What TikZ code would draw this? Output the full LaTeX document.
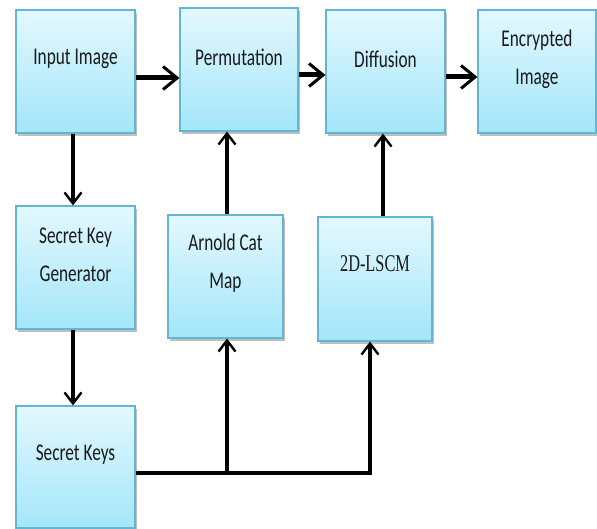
\documentclass[tikz,border=0pt]{standalone}
\usepackage{fontspec}
\newfontfamily\boxfont[FakeStretch=0.72]{Carlito}
\newfontfamily\boxserif[FakeStretch=0.68]{Liberation Serif}
\usetikzlibrary{arrows.meta,shadows}
\definecolor{boxtop}{HTML}{E3F8FE}
\definecolor{boxbot}{HTML}{A3E6FA}
\definecolor{boxline}{HTML}{62B6D2}
\definecolor{txt}{HTML}{1A1A1A}
\tikzset{
  blockbox/.style={draw=boxline, line width=1.2pt, top color=boxtop, bottom color=boxbot,
    minimum width=119pt, minimum height=123pt, inner sep=0pt,
    drop shadow={shadow xshift=2pt, shadow yshift=-3pt, opacity=0.25, fill=black}},
  blocktext/.style={text=txt, font=\boxfont\fontsize{24}{38}\selectfont, align=center, inner sep=0pt},
  flowarrow/.style={line width=5pt, -{Straight Barb[length=14pt,width=23pt,line width=3pt]}},
  keyarrow/.style={line width=3.2pt, -{Straight Barb[length=11pt,width=17pt,line width=2.4pt]}},
  busline/.style={line width=4pt}
}
\begin{document}
\begin{tikzpicture}[x=1pt,y=1pt]
\useasboundingbox (0,0) rectangle (597,529);
% boxes
\node[blockbox] (inp) at (75.5,457.5) {};
\node[blockbox, minimum width=118pt] (perm) at (239,459.5) {};
\node[blockbox] (diff) at (385.5,457.5) {};
\node[blockbox, minimum width=118pt] (enc) at (537,457.5) {};
\node[blockbox] (skg) at (75.5,261.5) {};
\node[blockbox, minimum width=115pt] (acm) at (225.5,252.5) {};
\node[blockbox, minimum width=114pt, minimum height=124pt] (lscm) at (375,250) {};
\node[blockbox, minimum height=122pt] (sk) at (75.5,62) {};
% texts
\node[blocktext] (tinp) at (75.5,470) {Input Image};
\node[blocktext] (tperm) at (239,472) {Permutation};
\node[blocktext] (tdiff) at (385.5,470) {Diffusion};
\node[blocktext] (tenc) at (537,470) {Encrypted\\Image};
\node[blocktext] (tskg) at (75.5,274.5) {Secret Key\\Generator};
\node[blocktext] (tacm) at (225.5,266) {Arnold Cat\\Map};
\node[blocktext, font=\boxserif\fontsize{24}{38}\selectfont] (tlscm) at (375,265) {2D-LSCM};
\node[blocktext] (tsk) at (75.5,74) {Secret Keys};
% helper coordinates
\coordinate (h1) at (0,451);
\coordinate (h2) at (0,454);
\coordinate (h3) at (0,452);
\coordinate (v1) at (73,0);
\coordinate (v2) at (227,0);
\coordinate (v3) at (383,0);
\coordinate (b1) at (227,56);
\coordinate (b2) at (370,56);
% top flow
\draw[flowarrow] (inp.east |- h1) -- (perm.west |- h1);
\draw[flowarrow] (perm.east |- h2) -- (diff.west |- h2);
\draw[flowarrow] (diff.east |- h3) -- (enc.west |- h3);
% left chain
\draw[keyarrow] (inp.south -| v1) -- (skg.north -| v1);
\draw[keyarrow] (skg.south -| v1) -- (sk.north -| v1);
% maps to stages
\draw[keyarrow] (acm.north -| v2) -- (perm.south -| v2);
\draw[keyarrow] (lscm.north -| v3) -- (diff.south -| v3);
% key bus
\draw[busline, line join=miter] (sk.east |- b1) -- (b2) -- ([yshift=-4pt]lscm.south -| b2);
\draw[keyarrow] ([yshift=-2pt]b2) -- (lscm.south -| b2);
\draw[keyarrow] ([yshift=-2pt]b1) -- (acm.south -| b1);
\end{tikzpicture}
\end{document}
